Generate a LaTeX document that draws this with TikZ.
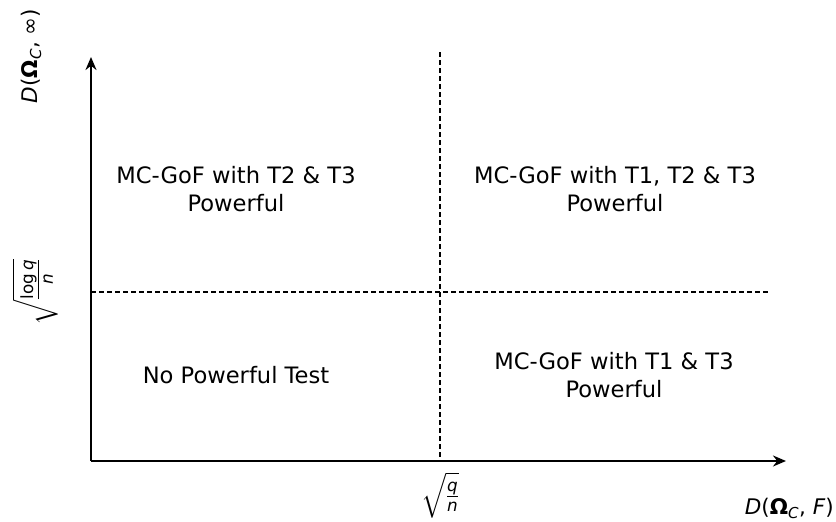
\documentclass[tikz,border=0pt]{standalone}
\usepackage{amsmath}
\usepackage{fontspec}
\setmainfont{DejaVu Sans}
\usepackage{tikz}
\usetikzlibrary{arrows.meta,positioning}

\tikzset{
  axisline/.style={line width=2.6pt,-{Stealth[length=13pt,width=11pt]}},
  splitline/.style={line width=1.3pt,dash pattern=on 5pt off 3pt},
  region/.style={align=center,font=\fontsize{22.6}{28}\selectfont},
  axislabel/.style={font=\fontsize{21.5}{26}\selectfont},
  ticklabel/.style={font=\fontsize{24}{30}\selectfont,inner sep=0pt}
}

\begin{document}
\begin{tikzpicture}[x=1pt,y=-1pt]
			\useasboundingbox (0,0) rectangle (836,522);
			
			\coordinate (O) at (91,461);
			\coordinate (X) at (786,461);
			\coordinate (Y) at (91,57);
			\coordinate (Vtop) at (440,52);
			\coordinate (Vbot) at (440,461);
			\coordinate (Hleft) at (91,292);
			\coordinate (Hright) at (770,292);
			
			\draw[splitline] (Vtop) -- (Vbot);
			\draw[splitline] (Hleft) -- (Hright);
			
			\draw[axisline] (O) -- (X);
			\draw[axisline] (O) -- (Y);
			
			% regions
			\node[region] (TL) at (236,189) {MC-GoF with T2 \& T3\\Powerful};
			\node[region] (TR) at (615,189) {MC-GoF with T1, T2 \& T3\\Powerful};
			\node[region] (BL) at (236,375) {No Powerful Test};
			\node[region] (BR) at (614,375) {MC-GoF with T1 \& T3\\Powerful};
			
			% ticks and axis names
			\node[ticklabel] (xtick) at (440,495) {$\sqrt{\frac{\textit{q}}{\textit{n}}}$};
			\node[ticklabel,rotate=90] (ytick) at (35,292) {$\sqrt{\frac{\text{log}\,\textit{q}}{\textit{n}}}$};
			\node[axislabel,anchor=south east,inner sep=0pt] (xname) at (834,519) {\textit{D}(\textbf{Ω}\textit{$_{\text{\textit{C}}}$}, \textit{F})};
			\node[axislabel,rotate=90] (yname) at (31,56) {\textit{D}(\textbf{Ω}\textit{$_{\text{\textit{C}}}$}, ∞)};
			
		\end{tikzpicture}
\end{document}
